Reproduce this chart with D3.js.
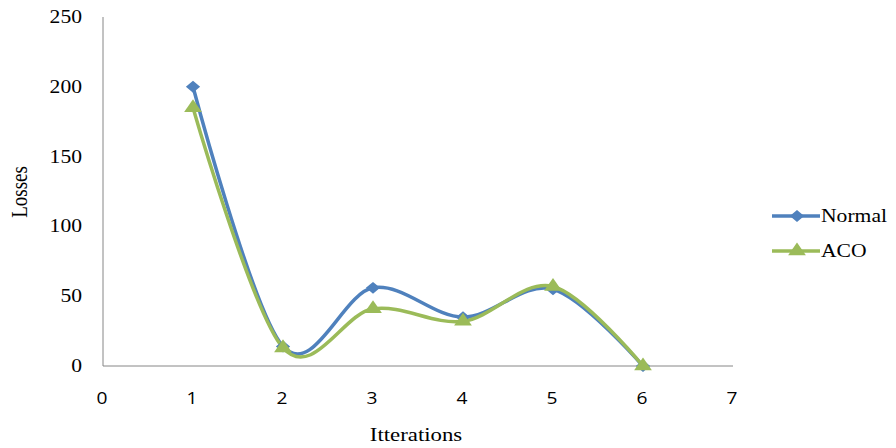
<!DOCTYPE html>
<html><head><meta charset="utf-8">
<script src="https://cdn.jsdelivr.net/npm/d3@7"></script>
<style>body{margin:0;background:#fff}svg{display:block}</style>
</head><body>
<svg id="c" width="896" height="448"></svg>
<script>
const iterations = [1, 2, 3, 4, 5, 6];
const normalLosses = [200, 14, 56, 35, 55, 0];
const acoLosses = [185, 13, 41, 32, 57, 0];
const xTicks = [0, 1, 2, 3, 4, 5, 6, 7];
const yTicks = [0, 50, 100, 150, 200, 250];
const seriesNames = ["Normal", "ACO"];

const svg = d3.select("#c");
const x = d3.scaleLinear().domain([0, 7]).range([103, 733]);
const y = d3.scaleLinear().domain([0, 250]).range([366, 17]);
const axisColor = "#868686";
const SX = 1.2; // horizontal stretch of the original picture
const serif = "'Liberation Serif', 'Times New Roman', serif";
const sans = "'Open Sans', 'Liberation Sans', sans-serif";

function label(tx, ty, txt, opts) {
  return svg.append("text")
    .attr("transform", `translate(${tx},${ty}) scale(${SX},1)` + (opts.rotate ? " rotate(-90)" : ""))
    .attr("text-anchor", opts.anchor || "start")
    .style("font-family", opts.font)
    .style("font-size", opts.size + "px")
    .attr("fill", "#000")
    .text(txt);
}

// axes lines
svg.append("line").attr("x1", x(0)).attr("x2", x(0)).attr("y1", y(250)).attr("y2", y(0)).attr("stroke", axisColor);
svg.append("line").attr("x1", x(0)).attr("x2", x(7)).attr("y1", y(0)).attr("y2", y(0)).attr("stroke", axisColor);

// tick labels from scales
const fmt = d3.format("d");
xTicks.forEach(v => label(x(v) - 1, 404, fmt(v), {anchor: "middle", font: sans, size: 16}));
yTicks.forEach(v => label(82, y(v) + 6, fmt(v), {anchor: "end", font: serif, size: 18}));

label(27, 192, "Losses", {anchor: "middle", font: serif, size: 19, rotate: true});
label(416, 441, "Itterations", {anchor: "middle", font: serif, size: 19});

const line = d3.line().x((d, i) => x(iterations[i])).y(d => y(d)).curve(d3.curveCardinal.tension(0));
const colors = ["#4F81BD", "#9BBB59"];
const data = [normalLosses, acoLosses];
const diamond = d3.symbol().type(d3.symbolDiamond2).size(90);
const triangle = d3.symbol().type(d3.symbolTriangle).size(95);

data.forEach((vals, k) => {
  svg.append("path").attr("d", line(vals)).attr("fill", "none").attr("stroke", colors[k]).attr("stroke-width", 3.5);
});
data.forEach((vals, k) => {
  svg.selectAll(null).data(vals).enter().append("path")
    .attr("transform", (d, i) => `translate(${x(iterations[i])},${y(d)}) scale(${SX},1)`)
    .attr("d", k === 0 ? diamond() : triangle())
    .attr("fill", colors[k]);
});

// legend
const legY = [216, 251];
seriesNames.forEach((n, k) => {
  svg.append("line").attr("x1", 772).attr("x2", 820).attr("y1", legY[k]).attr("y2", legY[k]).attr("stroke", colors[k]).attr("stroke-width", 3.5);
  svg.append("path").attr("transform", `translate(797,${legY[k]}) scale(${SX},1)`).attr("d", k === 0 ? diamond() : triangle()).attr("fill", colors[k]);
  label(821, legY[k] + 6, n, {font: serif, size: 18});
});
</script>
</body></html>
